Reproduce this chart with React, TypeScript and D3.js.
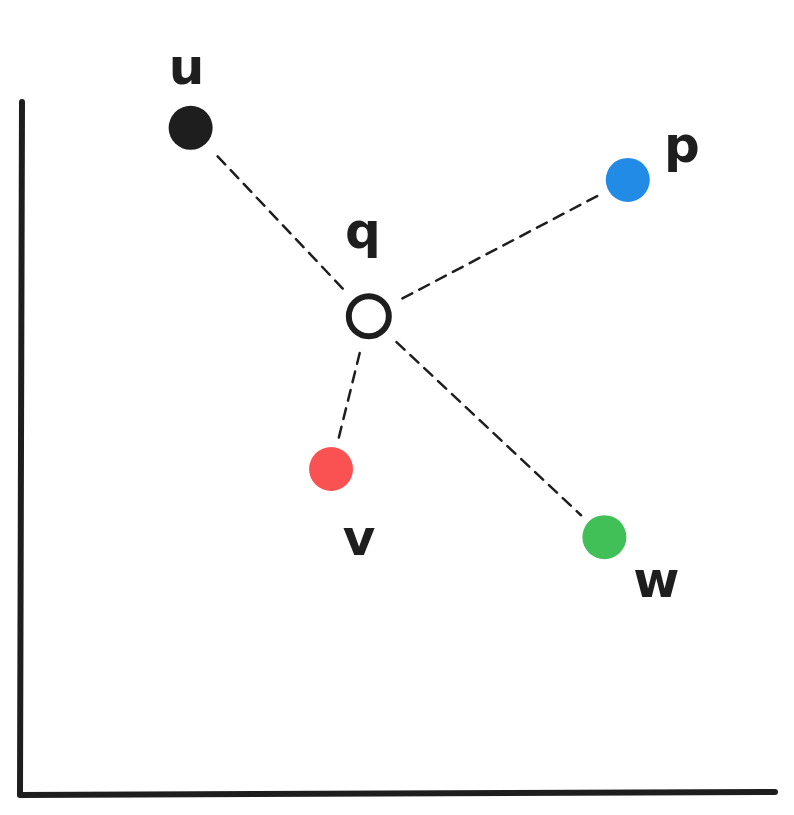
import React from "react";
import * as d3 from "d3";

// points (data units, 0-100 on both axes)
const names = ["u", "p", "v", "w"];
const xs = [22.6, 80.5, 41.2, 77.4];
const ys = [96.0, 88.5, 46.9, 37.1];
const colors = ["#1e1e1e", "#228be6", "#fa5252", "#40c057"];
// query point
const query = { name: "q", x: 46.2, y: 68.9 };

// label offsets in px (dx, dy of baseline from point centre)
const labelOff: Record<string, [number, number]> = {
  u: [-4, -44],
  p: [54, -18],
  q: [-6, -68],
  v: [28, 86],
  w: [52, 60],
};

const W = 794;
const H = 815;

export default function App() {
  const x = d3.scaleLinear().domain([0, 100]).range([20, 775]);
  const y = d3.scaleLinear().domain([0, 100]).range([795, 100]);

  const qx = x(query.x);
  const qy = y(query.y);
  const r = 22;
  const ink = "#1e1e1e";

  const font = "'DejaVu Sans', sans-serif";

  return (
    <div style={{ position: "absolute", left: 0, top: 0 }}>
      <svg width={W} height={H} style={{ display: "block", background: "#fff" }}>
        {/* axes */}
        <path
          d={`M${x(0) + 2},${y(100) + 2} L${x(0)},${y(0)} L${x(100)},${y(0) - 3}`}
          fill="none"
          stroke={ink}
          strokeWidth={6}
          strokeLinecap="round"
          strokeLinejoin="round"
        />
        {/* dashed links */}
        {names.map((n, i) => {
          const px = x(xs[i]);
          const py = y(ys[i]);
          const dx = px - qx;
          const dy = py - qy;
          const len = Math.hypot(dx, dy);
          const ux = dx / len;
          const uy = dy / len;
          const s = 38;
          const e = len - 32;
          return (
            <line
              key={n}
              x1={qx + ux * s}
              y1={qy + uy * s}
              x2={qx + ux * e}
              y2={qy + uy * e}
              stroke={ink}
              strokeWidth={2.5}
              strokeDasharray="11 8"
              strokeLinecap="round"
            />
          );
        })}
        {/* points */}
        {names.map((n, i) => (
          <circle key={n} cx={x(xs[i])} cy={y(ys[i])} r={r} fill={colors[i]} />
        ))}
        <circle cx={qx} cy={qy} r={20} fill="#fff" stroke={ink} strokeWidth={6} />
        {/* labels */}
        {names.map((n, i) => (
          <text
            key={n}
            x={x(xs[i]) + labelOff[n][0]}
            y={y(ys[i]) + labelOff[n][1]}
            textAnchor="middle"
            fontFamily={font}
            fontWeight="bold"
            fontSize={50}
            fill={ink}
          >
            {n}
          </text>
        ))}
        <text
          x={qx + labelOff.q[0]}
          y={qy + labelOff.q[1]}
          textAnchor="middle"
          fontFamily={font}
          fontWeight="bold"
          fontSize={50}
          fill={ink}
        >
          {query.name}
        </text>
      </svg>
    </div>
  );
}
